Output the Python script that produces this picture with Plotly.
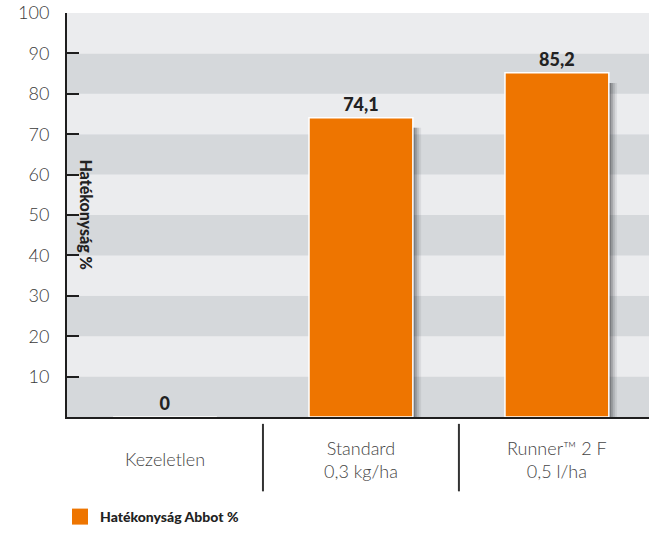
import plotly.graph_objects as go

# ---- data ----
categories = ["Kezeletlen", "Standard", "Runner™ 2 F"]
category_labels = ["Kezeletlen", "Standard<br>0,3 kg/ha", "Runner™ 2 F<br>0,5 l/ha"]
values = [0, 74.1, 85.2]
value_labels = ["0", "74,1", "85,2"]
y_ticks = [10, 20, 30, 40, 50, 60, 70, 80, 90, 100]
series_name = "Hatékonyság Abbot %"
axis_title = "Hatékonyság %"

ORANGE = "#EE7500"
LIGHT = "#EBECEE"
DARK = "#D5D8DB"
INK = "#1E1E1E"
FONT = "Lato"

BAR_W = 0.53

fig = go.Figure()

# soft drop shadow to the right of each bar
for d, a in [(0.042, 0.08), (0.032, 0.12), (0.022, 0.18), (0.012, 0.28)]:
    fig.add_trace(go.Bar(
        x=categories, y=[max(v - 2.5, 0) for v in values],
        width=BAR_W, offset=-BAR_W / 2 + d,
        marker=dict(color=f"rgba(40,40,45,{a})", line=dict(width=0)),
        showlegend=False, hoverinfo="skip",
    ))

fig.add_trace(go.Bar(
    x=categories, y=values,
    width=BAR_W, offset=-BAR_W / 2,
    marker=dict(color=ORANGE, line=dict(color="white", width=1.5)),
    text=value_labels, textposition="outside", cliponaxis=False,
    textfont=dict(family=FONT, size=18, color="#222222", weight=900),
    showlegend=False, hoverinfo="skip",
))

# legend entry
fig.add_trace(go.Scatter(
    x=[None], y=[None], mode="markers", name=series_name,
    marker=dict(symbol="square", size=22, color=ORANGE),
))

shapes = []
# alternating background bands
for lo in range(0, 100, 10):
    shapes.append(dict(
        type="rect", xref="paper", x0=0, x1=1, yref="y", y0=lo, y1=lo + 10,
        fillcolor=DARK if (lo // 10) % 2 == 0 else LIGHT, line=dict(width=0), layer="below",
    ))
# category separators below the axis
for i in range(len(categories) - 1):
    shapes.append(dict(
        type="line", xref="x", x0=i + 0.5, x1=i + 0.5, yref="paper", y0=-0.017, y1=-0.184,
        line=dict(color="#333333", width=2),
    ))

annotations = []
for c, lab in zip(categories, category_labels):
    annotations.append(dict(
        x=c, xref="x", y=-0.105, yref="paper", text=lab, showarrow=False,
        xanchor="center", yanchor="middle",
        font=dict(family=FONT, size=18, color="#444444", weight=300),
    ))
annotations.append(dict(
    x=0.034, xref="paper", y=0.502, yref="paper", text=axis_title, showarrow=False,
    textangle=90, xanchor="center", yanchor="middle",
    font=dict(family=FONT, size=16, color="#222222", weight=900),
))

fig.update_layout(
    width=649, height=533,
    margin=dict(l=67, r=0, t=13, b=112),
    paper_bgcolor="white", plot_bgcolor=LIGHT,
    barmode="overlay",
    separators=",.",
    shapes=shapes, annotations=annotations,
    showlegend=True,
    legend=dict(
        orientation="h", x=-0.012, xanchor="left", y=-0.248, yanchor="middle",
        font=dict(family=FONT, size=14, color="#222222", weight=900),
        itemsizing="trace", bgcolor="rgba(0,0,0,0)",
    ),
    xaxis=dict(
        type="category", range=[-0.5, 2.47], showticklabels=False, ticks="",
        showline=True, linecolor=INK, linewidth=2, showgrid=False, zeroline=False,
    ),
    yaxis=dict(
        range=[0, 100], tickvals=y_ticks, ticks="inside", ticklen=12, tickwidth=2,
        tickcolor=INK, showline=True, linecolor=INK, linewidth=2,
        showgrid=False, zeroline=False, ticklabelstandoff=12,
        tickfont=dict(family=FONT, size=18, color="#3A3A3A", weight=300),
    ),
)

fig.write_html("out.html", config={"displayModeBar": False},
               post_script="document.body.style.margin='0';")
